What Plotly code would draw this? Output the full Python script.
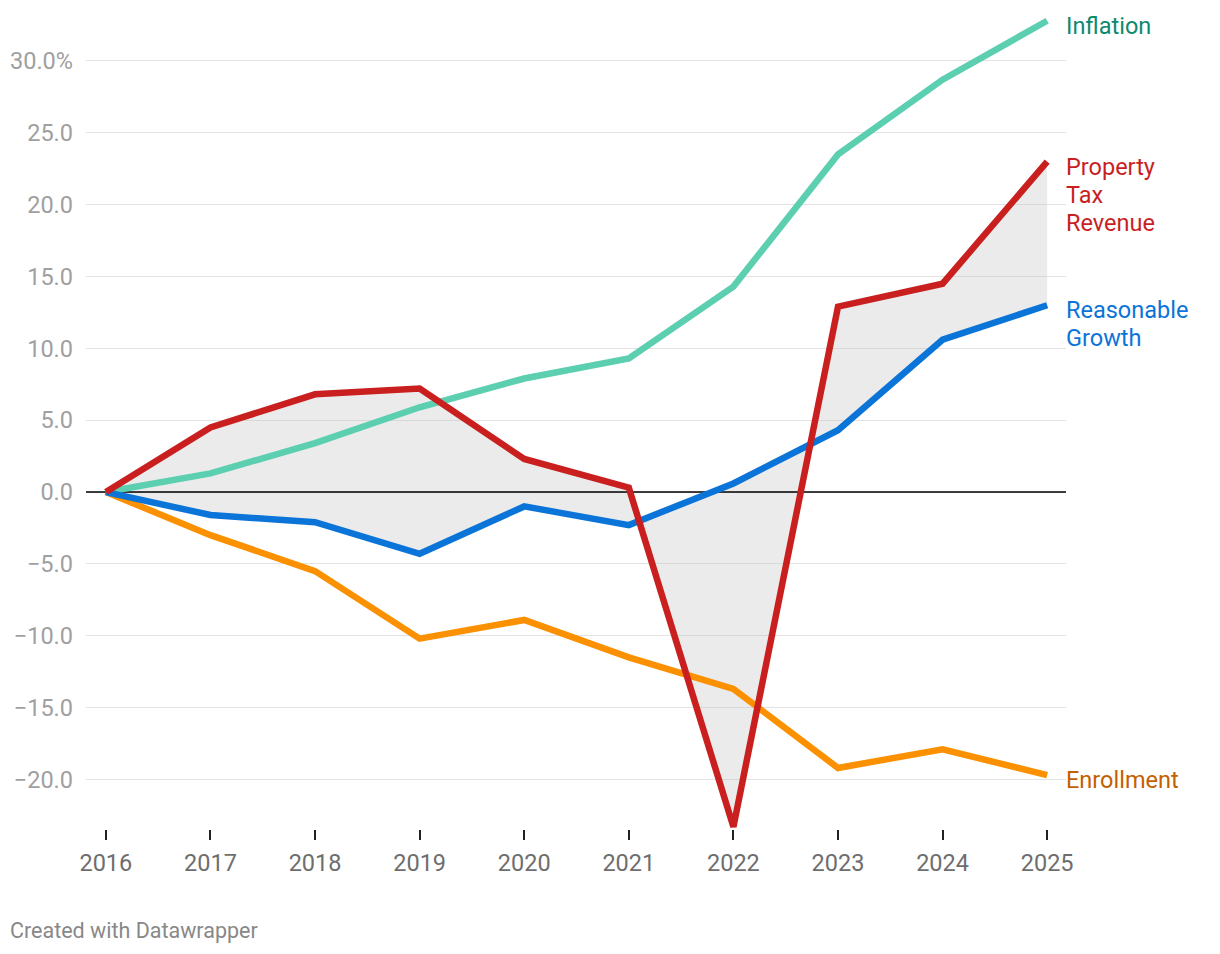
import plotly.graph_objects as go

years = [2016, 2017, 2018, 2019, 2020, 2021, 2022, 2023, 2024, 2025]
inflation = [0, 1.3, 3.4, 5.9, 7.9, 9.3, 14.3, 23.5, 28.7, 32.8]
property_tax = [0, 4.5, 6.8, 7.2, 2.3, 0.3, -23.3, 12.9, 14.5, 23.0]
reasonable_growth = [0, -1.6, -2.1, -4.3, -1.0, -2.3, 0.6, 4.3, 10.6, 13.0]
enrollment = [0, -3.0, -5.5, -10.2, -8.9, -11.5, -13.7, -19.2, -17.9, -19.7]

y_tickvals = [-20, -15, -10, -5, 0, 5, 10, 15, 20, 25, 30]
y_ticktext = ["\u221220.0", "\u221215.0", "\u221210.0", "\u22125.0", "0.0", "5.0", "10.0", "15.0", "20.0", "25.0", "30.0%"]

x_range = [2015.81, 2025.18]
y_range = [-23.45, 33.2]

font = "Roboto"

fig = go.Figure()

# shaded area between property tax and reasonable growth
fig.add_trace(go.Scatter(x=years, y=reasonable_growth, mode="lines",
                         line=dict(width=0), hoverinfo="skip", showlegend=False))
fig.add_trace(go.Scatter(x=years, y=property_tax, mode="lines", fill="tonexty",
                         fillcolor="rgba(200,200,200,0.36)",
                         line=dict(width=0), hoverinfo="skip", showlegend=False))

# zero line above fill
fig.add_trace(go.Scatter(x=x_range, y=[0, 0], mode="lines",
                         line=dict(color="#000000", width=1.5),
                         hoverinfo="skip", showlegend=False))

series = [
    ("Inflation", inflation, "#5ccfb1", "#0d8a6e", ["Inflation"]),
    ("Enrollment", enrollment, "#fb9100", "#c45f00", ["Enrollment"]),
    ("Reasonable Growth", reasonable_growth, "#0a74d8", "#0a74d8", ["Reasonable", "Growth"]),
    ("Property Tax Revenue", property_tax, "#c91f1f", "#c91f1f", ["Property", "Tax", "Revenue"]),
]

for name, vals, lc, tc, label_lines in series:
    fig.add_trace(go.Scatter(x=years, y=vals, mode="lines", name=name,
                             line=dict(color=lc, width=6.5),
                             showlegend=False))
    for i, line_text in enumerate(label_lines):
        fig.add_annotation(x=1, xref="paper", y=vals[-1], yref="y",
                           xanchor="left", yanchor="middle",
                           yshift=-5 - 28 * i, xshift=-2,
                           text=line_text, showarrow=False, align="left",
                           font=dict(family=font, size=23.5, color=tc))

fig.update_layout(
    width=1220, height=954,
    margin=dict(l=78, r=162, t=7, b=133, autoexpand=False),
    plot_bgcolor="white", paper_bgcolor="white",
    font=dict(family=font),
    hovermode=False,
)

fig.update_xaxes(range=x_range, tickvals=years, ticktext=[str(y) for y in years],
                 showgrid=False, zeroline=False, showline=False, automargin=False,
                 ticks="outside", ticklen=10, tickwidth=2, tickcolor="#222222",
                 tickfont=dict(family=font, size=23.5, color="#6e6e6e"),
                 ticklabelstandoff=3)
fig.update_yaxes(range=y_range, tickvals=y_tickvals, ticktext=y_ticktext,
                 showgrid=True, gridcolor="#e2e2e2", gridwidth=1, automargin=False,
                 zeroline=False, showline=False, ticks="",
                 tickfont=dict(family=font, size=23.5, color="#a0a0a0"),
                 ticklabelstandoff=12)

fig.add_annotation(xref="paper", yref="paper", x=0, y=0,
                   xanchor="left", yanchor="bottom",
                   xshift=-78, yshift=-116,
                   text="Created with Datawrapper", showarrow=False,
                   font=dict(family=font, size=21.5, color="#888888"))

fig.write_html("out.html")
